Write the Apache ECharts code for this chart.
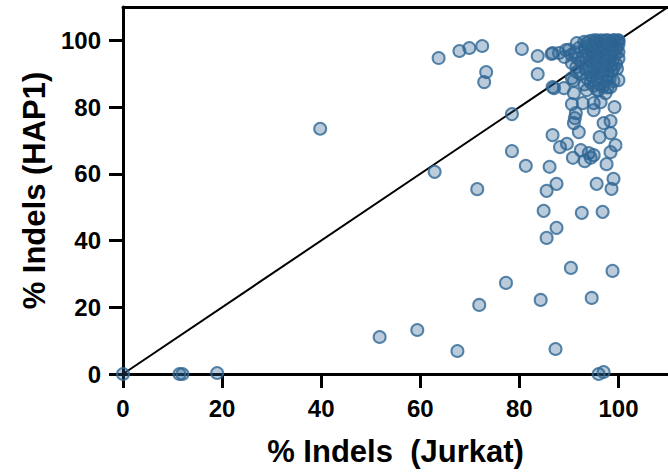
<!DOCTYPE html>
<html>
<head>
<meta charset="utf-8">
<script src="https://cdn.jsdelivr.net/npm/echarts@6/dist/echarts.min.js"></script>
<style>
html,body{margin:0;padding:0;background:#fff;}
#chart{width:668px;height:474px;}
</style>
</head>
<body>
<div id="chart"></div>
<script>
// Each entry: [% Indels Jurkat, % Indels HAP1]
const lowGroup = [
  [0,0],[11.4,0],[12,0],[19,0.3],[51.8,11.1],[59.4,13.2],[67.5,6.9],[71.9,20.7],
  [77.3,27.3],[84.3,22.2],[87.3,7.5],[90.4,31.8],[94.6,22.8],[96.0,0],[97.0,0.6],[98.8,30.9]
];
const midGroup = [
  [39.8,73.5],[62.9,60.6],[71.5,55.4],[78.5,77.9],[78.5,66.8],[81.3,62.4],[84.9,48.9],
  [85.5,40.8],[85.5,54.9],[86.1,62.1],[87.5,43.8],[87.5,57.0],[92.6,48.3],[95.6,57.0],
  [96.8,48.6],[99.0,58.5],[98.6,55.5],
  [86.7,71.6],[88.2,68.0],[89.6,69.0],[90.8,64.8],[92.4,67.1],[93.2,63.8],[94.0,66.2],
  [95.0,65.6],[94.4,64.8],[96.2,71.0],[97.0,75.2],[98.4,75.8],[98.4,72.2],[99.4,68.6],
  [98.4,66.5],[97.6,62.9],[99.2,80.0],[90.6,80.9],[92.8,81.2],[95.0,81.2],[96.4,81.5],
  [91.4,78.2],[91.0,75.2],[92.0,72.5],[95.0,79.1],[91.2,76.7],[97.4,84.2]
];
const upperGroup = [
  [63.7,94.7],[67.9,96.8],[69.9,97.7],[72.5,98.3],[73.3,90.5],[72.9,87.5],[80.5,97.4],
  [83.7,95.3],[83.7,89.9],[86.5,95.9],[86.7,86.0],
  [87.0,85.7],[89.0,85.7],[90.6,88.7],[91.0,84.2],[93.6,85.1],[96.0,85.1],[98.4,86.0],
  [100,88.1],[91.6,90.5],[99.0,91.7],[86.7,96.2],[88.0,96.2],[89.4,97.1],[91.6,99.2],
  [93.6,99.2],[95.6,100],[97.4,100],[99.0,100],[100,100]
];
const clusterGroup = [
  [93.1,99.6],[94.2,99.8],[95.0,100],[95.8,99.5],[96.5,100],[97.2,99.7],[97.9,100],[98.6,99.4],
  [99.2,100],[99.8,99.6],[100,98.8],[99.5,98.2],[98.7,98.5],[97.6,98.9],[96.8,98.3],[95.9,98.6],
  [94.8,98.1],[93.9,98.4],[93.2,97.6],[94.5,97.0],[95.5,97.3],[96.3,96.8],[97.1,97.5],[98.0,97.2],
  [98.9,96.9],[99.6,97.4],[100,96.5],[99.3,95.8],[98.4,95.5],[97.5,96.0],[96.6,95.3],[95.7,95.9],
  [94.8,95.6],[93.8,96.1],[92.9,95.4],[93.5,94.3],[94.4,94.0],[95.3,94.5],[96.2,93.8],[97.1,94.2],
  [98.0,93.6],[98.9,94.1],[99.5,93.0],[98.5,92.3],[97.6,92.7],[96.7,92.1],[95.8,92.6],[94.9,91.9],
  [94.0,92.4],[93.4,91.2],[94.3,90.5],[95.2,90.9],[96.1,90.2],[97.0,90.7],[97.9,89.8],[98.6,90.9],
  [96.6,88.9],[95.6,88.3],[94.7,89.1],[97.5,88.1],[96.0,87.0],[95.0,86.4],[96.9,86.2],[95.7,85.1],
  [94.4,87.4],[93.7,88.6],[92.5,93.5],[91.8,94.6],[91.2,96.4],[90.5,95.7],[92.1,97.8],[90.0,97.2],
  [89.1,95.0],[90.6,93.2],[91.5,92.0],[92.3,89.9],[91.0,88.0],[93.1,86.8],[97.8,85.9],[99.0,87.8],
  [98.2,88.6],[99.7,91.5],[100,94.6],[100,99.9],[99.0,99.1],[96.1,99.3]
];
const identityLine = [[0,0],[110,110]];
const xTicks = [0,20,40,60,80,100];
const yTicks = [0,20,40,60,80,100];
const xTitle = '% Indels  (Jurkat)';
const yTitle = '% Indels (HAP1)';

const allPoints = lowGroup.concat(midGroup, upperGroup, clusterGroup);

const chart = echarts.init(document.getElementById('chart'), null, {renderer: 'svg'});
const font = 'Liberation Sans, Arial, sans-serif';
const axisCommon = {
  min: 0, max: 110,
  axisLine: {show: true, onZero: false, lineStyle: {color: '#000', width: 3}},
  splitLine: {show: false},
  nameLocation: 'middle',
  nameTextStyle: {fontFamily: font, fontWeight: 'bold', fontSize: 31, color: '#000'}
};
chart.setOption({
  animation: false,
  backgroundColor: '#fff',
  grid: {left: 123, right: -7, top: 7, bottom: 100, containLabel: false},
  xAxis: [
    Object.assign({}, axisCommon, {
      type: 'value', position: 'bottom',
      name: xTitle, nameGap: 62,
      axisTick: {show: true, length: 14, customValues: xTicks, lineStyle: {color: '#000', width: 3}},
      axisLabel: {customValues: xTicks, margin: 22, fontFamily: font, fontWeight: 'bold', fontSize: 24, color: '#000'}
    }),
    {
      type: 'value', position: 'top', min: 0, max: 110,
      axisLine: {show: true, onZero: false, lineStyle: {color: '#000', width: 3}},
      axisTick: {show: false}, axisLabel: {show: false}, splitLine: {show: false}
    }
  ],
  yAxis: Object.assign({}, axisCommon, {
    type: 'value',
    name: yTitle, nameGap: 72,
    axisTick: {show: true, length: 14, customValues: yTicks, lineStyle: {color: '#000', width: 3}},
    axisLabel: {customValues: yTicks, margin: 22, fontFamily: font, fontWeight: 'bold', fontSize: 24, color: '#000'}
  }),
  series: [
    {
      type: 'line', data: identityLine, symbol: 'none', z: 1,
      lineStyle: {color: '#000', width: 2}, clip: true, silent: true
    },
    {
      type: 'scatter', data: allPoints, symbol: 'circle', symbolSize: 12, z: 3,
      itemStyle: {color: 'rgba(40,95,145,0.4)', borderColor: '#2f6694', borderWidth: 2}
    }
  ]
});
</script>
</body>
</html>
